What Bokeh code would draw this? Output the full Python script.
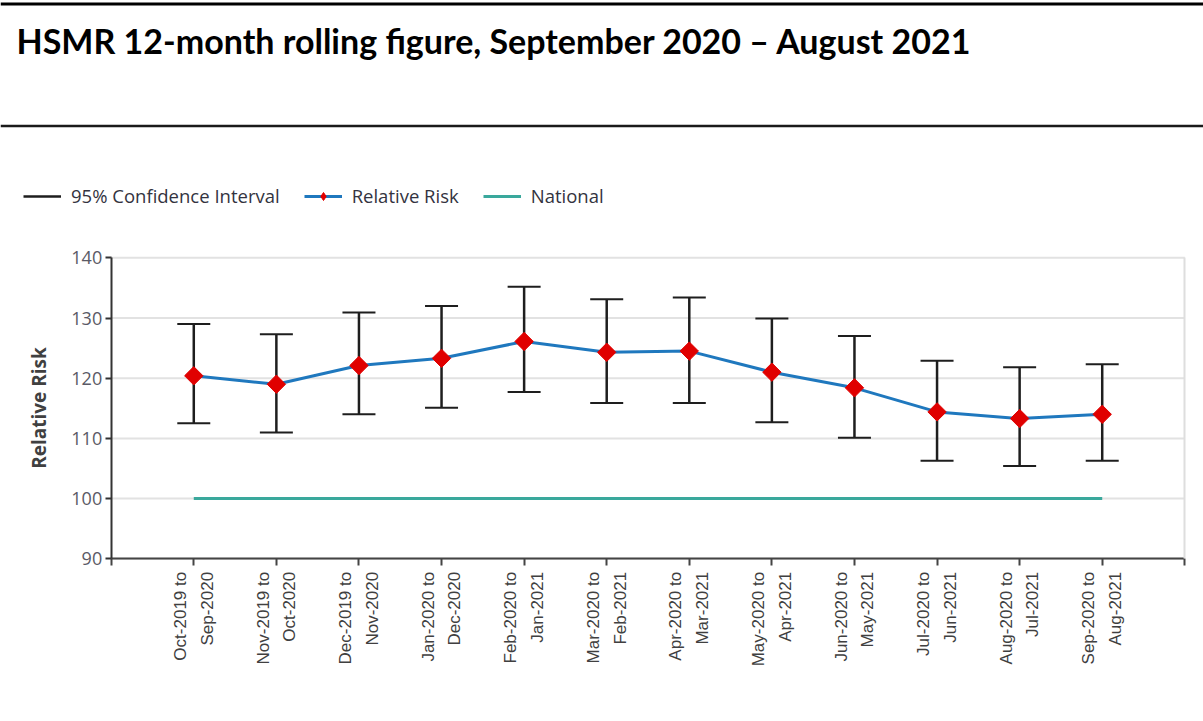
import math

from bokeh.embed import file_html
from bokeh.models import FixedTicker, Label, Legend, LegendItem, LinearAxis, Range1d, Span
from bokeh.plotting import figure
from bokeh.resources import INLINE

# ---- data -------------------------------------------------------------
periods = [
    "Oct-2019 to\nSep-2020",
    "Nov-2019 to\nOct-2020",
    "Dec-2019 to\nNov-2020",
    "Jan-2020 to\nDec-2020",
    "Feb-2020 to\nJan-2021",
    "Mar-2020 to\nFeb-2021",
    "Apr-2020 to\nMar-2021",
    "May-2020 to\nApr-2021",
    "Jun-2020 to\nMay-2021",
    "Jul-2020 to\nJun-2021",
    "Aug-2020 to\nJul-2021",
    "Sep-2020 to\nAug-2021",
]
relative_risk = [120.4, 119.0, 122.1, 123.3, 126.1, 124.3, 124.5, 121.0, 118.4, 114.4, 113.3, 114.0]
ci_upper = [129.0, 127.3, 130.9, 132.0, 135.2, 133.1, 133.4, 129.9, 127.0, 122.9, 121.8, 122.3]
ci_lower = [112.5, 111.0, 114.0, 115.1, 117.7, 115.9, 115.9, 112.7, 110.1, 106.3, 105.4, 106.3]
national = [100] * len(periods)
y_ticks = [90, 100, 110, 120, 130, 140]

title_text = "HSMR 12-month rolling figure, September 2020 \u2013 August 2021"

idx = list(range(len(periods)))

# ---- page geometry ------------------------------------------------------
W, H = 1203, 721
Y_LO, Y_HI = 90, 140            # value axis extent
X_LO, X_HI = -1, len(periods)   # category axis extent (one slot padding each side)
AX_LEFT, AX_RIGHT = 110.7, 1184.3   # pixel position of the axes box
AX_TOP, AX_BOTTOM = 257.3, 558.3

px_x = (AX_RIGHT - AX_LEFT) / (X_HI - X_LO)
px_y = (AX_BOTTOM - AX_TOP) / (Y_HI - Y_LO)
x_range = Range1d(X_LO - AX_LEFT / px_x, X_HI + (W - AX_RIGHT) / px_x)
y_range = Range1d(Y_LO - (H - AX_BOTTOM) / px_y, Y_HI + AX_TOP / px_y)


def page_y(py):
    """Value-space y for a pixel row measured from the top of the page."""
    return y_range.end - py / px_y


p = figure(
    width=W, height=H, x_range=x_range, y_range=y_range,
    min_border=0, toolbar_location=None, output_backend="svg",
    x_axis_location=None, y_axis_location=None,
    outline_line_color=None,
)
p.xgrid.visible = False
p.ygrid.visible = False

# ---- header: rules and report title ------------------------------------
p.add_layout(Span(location=page_y(3.5), dimension="width", line_color="#000000", line_width=3))
p.add_layout(Span(location=page_y(125.5), dimension="width", line_color="#1a1a1a", line_width=2.5))
p.add_layout(Label(
    x=16, y=H - 40, x_units="screen", y_units="screen", text=title_text,
    text_font="Lato", text_font_style="bold", text_font_size="34px",
    text_color="#000000", text_baseline="alphabetic", text_align="left",
))

# ---- horizontal grid lines across the axes box ---------------------------
p.segment(
    x0=[X_LO] * len(y_ticks), x1=[X_HI] * len(y_ticks), y0=y_ticks, y1=y_ticks,
    line_color="#e2e2e2", line_width=2,
)

# ---- axes ----------------------------------------------------------------
yax = LinearAxis(
    fixed_location=X_LO, bounds=(Y_LO, Y_HI), ticker=FixedTicker(ticks=y_ticks),
    axis_label="Relative Risk",
)
yax.minor_tick_line_color = None
yax.axis_line_color = "#333333"
yax.axis_line_width = 2
yax.major_tick_line_color = "#333333"
yax.major_tick_line_width = 2
yax.major_tick_out = 6
yax.major_tick_in = 0
yax.major_label_standoff = 3
yax.major_label_text_font = "Open Sans"
yax.major_label_text_font_size = "18px"
yax.major_label_text_color = "#5a5a66"
yax.axis_label_text_font = "Open Sans"
yax.axis_label_text_font_style = "bold"
yax.axis_label_text_font_size = "19px"
yax.axis_label_text_color = "#404040"
yax.axis_label_standoff = 17
p.add_layout(yax, "left")

xax = LinearAxis(
    fixed_location=Y_LO, bounds=(X_LO, X_HI),
    ticker=FixedTicker(ticks=[X_LO] + idx + [X_HI]),
)
overrides = {i: lab for i, lab in zip(idx, periods)}
overrides[X_LO] = ""
overrides[X_HI] = ""
xax.major_label_overrides = overrides
xax.major_label_orientation = math.pi / 2
xax.minor_tick_line_color = None
xax.axis_line_color = "#444444"
xax.axis_line_width = 2
xax.major_tick_line_color = "#444444"
xax.major_tick_line_width = 2
xax.major_tick_out = 7
xax.major_tick_in = 0
xax.major_label_standoff = 6
xax.major_label_text_font = "Liberation Sans"
xax.major_label_text_font_size = "17px"
xax.major_label_text_color = "#404040"
xax.major_label_text_line_height = 1.4
p.add_layout(xax, "below")

# light frame edge on the right of the axes box
rax = LinearAxis(fixed_location=X_HI, bounds=(Y_LO, Y_HI), ticker=FixedTicker(ticks=[]))
rax.axis_line_color = "#dedede"
rax.axis_line_width = 2
rax.major_tick_line_color = None
rax.minor_tick_line_color = None
p.add_layout(rax, "right")

# ---- series ----------------------------------------------------------------
nat_r = p.line(idx, national, line_color="#3aa89c", line_width=3)

ci_r = p.segment(x0=idx, y0=ci_lower, x1=idx, y1=ci_upper, line_color="#1e1e1e", line_width=2.5)
p.scatter(idx, ci_upper, marker="dash", size=33, line_color="#1e1e1e", line_width=2)
p.scatter(idx, ci_lower, marker="dash", size=33, line_color="#1e1e1e", line_width=2)

rr_line = p.line(idx, relative_risk, line_color="#1f78be", line_width=3)
# upright diamond core (also the legend swatch), covered by the wider point marker
rr_core = p.scatter(
    idx, relative_risk, marker="diamond", size=12,
    fill_color="#e00000", line_color="#e00000", line_width=1,
)
p.scatter(
    idx, relative_risk, marker="square", angle=math.pi / 4, size=13,
    fill_color="#e00000", line_color="#e00000", line_width=1,
)

legend = Legend(
    items=[
        LegendItem(label="95% Confidence Interval", renderers=[ci_r]),
        LegendItem(label="Relative Risk", renderers=[rr_line, rr_core]),
        LegendItem(label="National", renderers=[nat_r]),
    ],
    orientation="horizontal",
    location=(23, H - 208),
    glyph_width=38, glyph_height=20,
    label_standoff=10, spacing=24,
    padding=0, margin=0,
    background_fill_alpha=0, border_line_color=None,
    label_text_font="Open Sans", label_text_font_size="18.5px",
    label_text_color="#333340",
)
p.add_layout(legend, "center")

with open("out.html", "w") as f:
    f.write(file_html(p, INLINE))
